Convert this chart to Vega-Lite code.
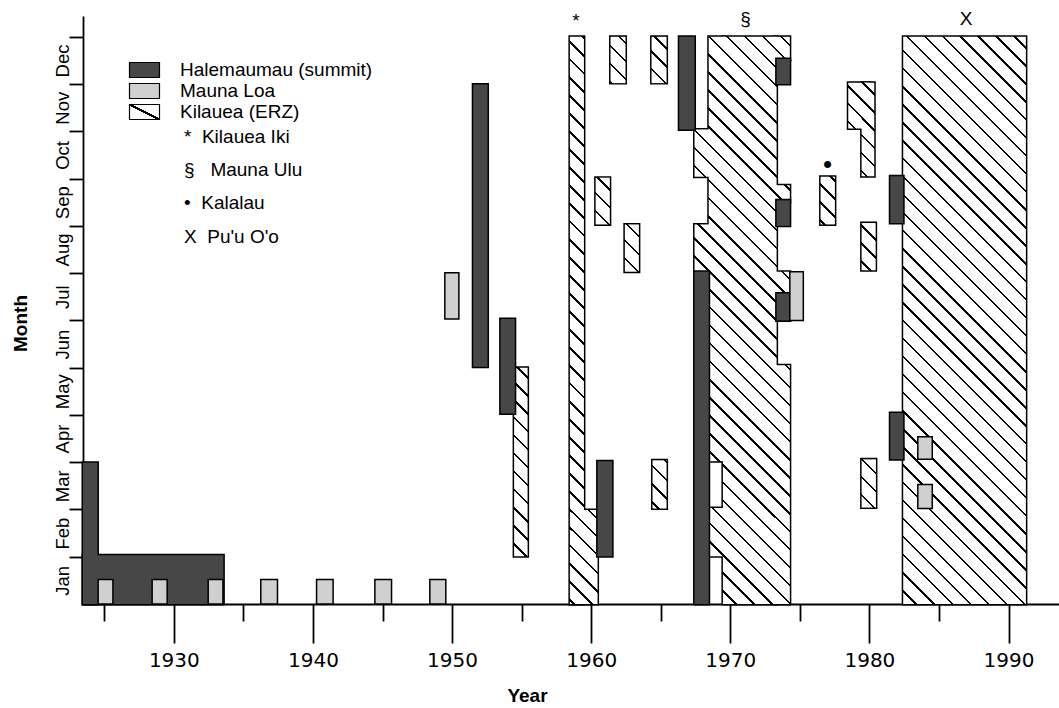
{
  "$schema": "https://vega.github.io/schema/vega-lite/v6.json",
  "width": 976,
  "height": 588,
  "autosize": "none",
  "padding": {"left": 83, "top": 16, "right": 0, "bottom": 104},
  "background": "white",
  "config": {
    "font": "Liberation Sans",
    "view": {"stroke": null},
    "axis": {"domainColor": "black", "domainWidth": 1.8, "tickColor": "black", "tickWidth": 1.8, "labelColor": "black", "titleColor": "black", "grid": false},
    "legend": {"labelColor": "black", "labelLimit": 400, "padding": 0}
  },
  "params": [
    {"name": "hatchStops", "value": [
      {"offset":0,"color":"#000"},{"offset":0.0018,"color":"#000"},{"offset":0.0018,"color":"#fff"},
      {"offset":0.0111,"color":"#fff"},{"offset":0.0111,"color":"#000"},{"offset":0.0129,"color":"#000"},{"offset":0.0129,"color":"#fff"},
      {"offset":0.0222,"color":"#fff"},{"offset":0.0222,"color":"#000"},{"offset":0.0240,"color":"#000"},{"offset":0.0240,"color":"#fff"},
      {"offset":0.0333,"color":"#fff"},{"offset":0.0333,"color":"#000"},{"offset":0.0351,"color":"#000"},{"offset":0.0351,"color":"#fff"},
      {"offset":0.0444,"color":"#fff"},{"offset":0.0444,"color":"#000"},{"offset":0.0462,"color":"#000"},{"offset":0.0462,"color":"#fff"},
      {"offset":0.0556,"color":"#fff"},{"offset":0.0556,"color":"#000"},{"offset":0.0574,"color":"#000"},{"offset":0.0574,"color":"#fff"},
      {"offset":0.0667,"color":"#fff"},{"offset":0.0667,"color":"#000"},{"offset":0.0685,"color":"#000"},{"offset":0.0685,"color":"#fff"},
      {"offset":0.0778,"color":"#fff"},{"offset":0.0778,"color":"#000"},{"offset":0.0796,"color":"#000"},{"offset":0.0796,"color":"#fff"},
      {"offset":0.0889,"color":"#fff"},{"offset":0.0889,"color":"#000"},{"offset":0.0907,"color":"#000"},{"offset":0.0907,"color":"#fff"},
      {"offset":0.1000,"color":"#fff"},{"offset":0.1000,"color":"#000"},{"offset":0.1018,"color":"#000"},{"offset":0.1018,"color":"#fff"},
      {"offset":0.1111,"color":"#fff"},{"offset":0.1111,"color":"#000"},{"offset":0.1129,"color":"#000"},{"offset":0.1129,"color":"#fff"},
      {"offset":0.1222,"color":"#fff"},{"offset":0.1222,"color":"#000"},{"offset":0.1240,"color":"#000"},{"offset":0.1240,"color":"#fff"},
      {"offset":0.1333,"color":"#fff"},{"offset":0.1333,"color":"#000"},{"offset":0.1351,"color":"#000"},{"offset":0.1351,"color":"#fff"},
      {"offset":0.1444,"color":"#fff"},{"offset":0.1444,"color":"#000"},{"offset":0.1462,"color":"#000"},{"offset":0.1462,"color":"#fff"},
      {"offset":0.1556,"color":"#fff"},{"offset":0.1556,"color":"#000"},{"offset":0.1574,"color":"#000"},{"offset":0.1574,"color":"#fff"},
      {"offset":0.1667,"color":"#fff"},{"offset":0.1667,"color":"#000"},{"offset":0.1685,"color":"#000"},{"offset":0.1685,"color":"#fff"},
      {"offset":0.1778,"color":"#fff"},{"offset":0.1778,"color":"#000"},{"offset":0.1796,"color":"#000"},{"offset":0.1796,"color":"#fff"},
      {"offset":0.1889,"color":"#fff"},{"offset":0.1889,"color":"#000"},{"offset":0.1907,"color":"#000"},{"offset":0.1907,"color":"#fff"},
      {"offset":0.2000,"color":"#fff"},{"offset":0.2000,"color":"#000"},{"offset":0.2018,"color":"#000"},{"offset":0.2018,"color":"#fff"},
      {"offset":0.2111,"color":"#fff"},{"offset":0.2111,"color":"#000"},{"offset":0.2129,"color":"#000"},{"offset":0.2129,"color":"#fff"},
      {"offset":0.2222,"color":"#fff"},{"offset":0.2222,"color":"#000"},{"offset":0.2240,"color":"#000"},{"offset":0.2240,"color":"#fff"},
      {"offset":0.2333,"color":"#fff"},{"offset":0.2333,"color":"#000"},{"offset":0.2351,"color":"#000"},{"offset":0.2351,"color":"#fff"},
      {"offset":0.2444,"color":"#fff"},{"offset":0.2444,"color":"#000"},{"offset":0.2462,"color":"#000"},{"offset":0.2462,"color":"#fff"},
      {"offset":0.2556,"color":"#fff"},{"offset":0.2556,"color":"#000"},{"offset":0.2574,"color":"#000"},{"offset":0.2574,"color":"#fff"},
      {"offset":0.2667,"color":"#fff"},{"offset":0.2667,"color":"#000"},{"offset":0.2685,"color":"#000"},{"offset":0.2685,"color":"#fff"},
      {"offset":0.2778,"color":"#fff"},{"offset":0.2778,"color":"#000"},{"offset":0.2796,"color":"#000"},{"offset":0.2796,"color":"#fff"},
      {"offset":0.2889,"color":"#fff"},{"offset":0.2889,"color":"#000"},{"offset":0.2907,"color":"#000"},{"offset":0.2907,"color":"#fff"},
      {"offset":0.3000,"color":"#fff"},{"offset":0.3000,"color":"#000"},{"offset":0.3018,"color":"#000"},{"offset":0.3018,"color":"#fff"},
      {"offset":0.3111,"color":"#fff"},{"offset":0.3111,"color":"#000"},{"offset":0.3129,"color":"#000"},{"offset":0.3129,"color":"#fff"},
      {"offset":0.3222,"color":"#fff"},{"offset":0.3222,"color":"#000"},{"offset":0.3240,"color":"#000"},{"offset":0.3240,"color":"#fff"},
      {"offset":0.3333,"color":"#fff"},{"offset":0.3333,"color":"#000"},{"offset":0.3351,"color":"#000"},{"offset":0.3351,"color":"#fff"},
      {"offset":0.3444,"color":"#fff"},{"offset":0.3444,"color":"#000"},{"offset":0.3462,"color":"#000"},{"offset":0.3462,"color":"#fff"},
      {"offset":0.3556,"color":"#fff"},{"offset":0.3556,"color":"#000"},{"offset":0.3574,"color":"#000"},{"offset":0.3574,"color":"#fff"},
      {"offset":0.3667,"color":"#fff"},{"offset":0.3667,"color":"#000"},{"offset":0.3685,"color":"#000"},{"offset":0.3685,"color":"#fff"},
      {"offset":0.3778,"color":"#fff"},{"offset":0.3778,"color":"#000"},{"offset":0.3796,"color":"#000"},{"offset":0.3796,"color":"#fff"},
      {"offset":0.3889,"color":"#fff"},{"offset":0.3889,"color":"#000"},{"offset":0.3907,"color":"#000"},{"offset":0.3907,"color":"#fff"},
      {"offset":0.4000,"color":"#fff"},{"offset":0.4000,"color":"#000"},{"offset":0.4018,"color":"#000"},{"offset":0.4018,"color":"#fff"},
      {"offset":0.4111,"color":"#fff"},{"offset":0.4111,"color":"#000"},{"offset":0.4129,"color":"#000"},{"offset":0.4129,"color":"#fff"},
      {"offset":0.4222,"color":"#fff"},{"offset":0.4222,"color":"#000"},{"offset":0.4240,"color":"#000"},{"offset":0.4240,"color":"#fff"},
      {"offset":0.4333,"color":"#fff"},{"offset":0.4333,"color":"#000"},{"offset":0.4351,"color":"#000"},{"offset":0.4351,"color":"#fff"},
      {"offset":0.4444,"color":"#fff"},{"offset":0.4444,"color":"#000"},{"offset":0.4462,"color":"#000"},{"offset":0.4462,"color":"#fff"},
      {"offset":0.4556,"color":"#fff"},{"offset":0.4556,"color":"#000"},{"offset":0.4574,"color":"#000"},{"offset":0.4574,"color":"#fff"},
      {"offset":0.4667,"color":"#fff"},{"offset":0.4667,"color":"#000"},{"offset":0.4685,"color":"#000"},{"offset":0.4685,"color":"#fff"},
      {"offset":0.4778,"color":"#fff"},{"offset":0.4778,"color":"#000"},{"offset":0.4796,"color":"#000"},{"offset":0.4796,"color":"#fff"},
      {"offset":0.4889,"color":"#fff"},{"offset":0.4889,"color":"#000"},{"offset":0.4907,"color":"#000"},{"offset":0.4907,"color":"#fff"},
      {"offset":0.5000,"color":"#fff"},{"offset":0.5000,"color":"#000"},{"offset":0.5018,"color":"#000"},{"offset":0.5018,"color":"#fff"},
      {"offset":0.5111,"color":"#fff"},{"offset":0.5111,"color":"#000"},{"offset":0.5129,"color":"#000"},{"offset":0.5129,"color":"#fff"},
      {"offset":0.5222,"color":"#fff"},{"offset":0.5222,"color":"#000"},{"offset":0.5240,"color":"#000"},{"offset":0.5240,"color":"#fff"},
      {"offset":0.5333,"color":"#fff"},{"offset":0.5333,"color":"#000"},{"offset":0.5351,"color":"#000"},{"offset":0.5351,"color":"#fff"},
      {"offset":0.5444,"color":"#fff"},{"offset":0.5444,"color":"#000"},{"offset":0.5462,"color":"#000"},{"offset":0.5462,"color":"#fff"},
      {"offset":0.5556,"color":"#fff"},{"offset":0.5556,"color":"#000"},{"offset":0.5574,"color":"#000"},{"offset":0.5574,"color":"#fff"},
      {"offset":0.5667,"color":"#fff"},{"offset":0.5667,"color":"#000"},{"offset":0.5685,"color":"#000"},{"offset":0.5685,"color":"#fff"},
      {"offset":0.5778,"color":"#fff"},{"offset":0.5778,"color":"#000"},{"offset":0.5796,"color":"#000"},{"offset":0.5796,"color":"#fff"},
      {"offset":0.5889,"color":"#fff"},{"offset":0.5889,"color":"#000"},{"offset":0.5907,"color":"#000"},{"offset":0.5907,"color":"#fff"},
      {"offset":0.6000,"color":"#fff"},{"offset":0.6000,"color":"#000"},{"offset":0.6018,"color":"#000"},{"offset":0.6018,"color":"#fff"},
      {"offset":0.6111,"color":"#fff"},{"offset":0.6111,"color":"#000"},{"offset":0.6129,"color":"#000"},{"offset":0.6129,"color":"#fff"},
      {"offset":0.6222,"color":"#fff"},{"offset":0.6222,"color":"#000"},{"offset":0.6240,"color":"#000"},{"offset":0.6240,"color":"#fff"},
      {"offset":0.6333,"color":"#fff"},{"offset":0.6333,"color":"#000"},{"offset":0.6351,"color":"#000"},{"offset":0.6351,"color":"#fff"},
      {"offset":0.6444,"color":"#fff"},{"offset":0.6444,"color":"#000"},{"offset":0.6462,"color":"#000"},{"offset":0.6462,"color":"#fff"},
      {"offset":0.6556,"color":"#fff"},{"offset":0.6556,"color":"#000"},{"offset":0.6574,"color":"#000"},{"offset":0.6574,"color":"#fff"},
      {"offset":0.6667,"color":"#fff"},{"offset":0.6667,"color":"#000"},{"offset":0.6685,"color":"#000"},{"offset":0.6685,"color":"#fff"},
      {"offset":0.6778,"color":"#fff"},{"offset":0.6778,"color":"#000"},{"offset":0.6796,"color":"#000"},{"offset":0.6796,"color":"#fff"},
      {"offset":0.6889,"color":"#fff"},{"offset":0.6889,"color":"#000"},{"offset":0.6907,"color":"#000"},{"offset":0.6907,"color":"#fff"},
      {"offset":0.7000,"color":"#fff"},{"offset":0.7000,"color":"#000"},{"offset":0.7018,"color":"#000"},{"offset":0.7018,"color":"#fff"},
      {"offset":0.7111,"color":"#fff"},{"offset":0.7111,"color":"#000"},{"offset":0.7129,"color":"#000"},{"offset":0.7129,"color":"#fff"},
      {"offset":0.7222,"color":"#fff"},{"offset":0.7222,"color":"#000"},{"offset":0.7240,"color":"#000"},{"offset":0.7240,"color":"#fff"},
      {"offset":0.7333,"color":"#fff"},{"offset":0.7333,"color":"#000"},{"offset":0.7351,"color":"#000"},{"offset":0.7351,"color":"#fff"},
      {"offset":0.7444,"color":"#fff"},{"offset":0.7444,"color":"#000"},{"offset":0.7462,"color":"#000"},{"offset":0.7462,"color":"#fff"},
      {"offset":0.7556,"color":"#fff"},{"offset":0.7556,"color":"#000"},{"offset":0.7574,"color":"#000"},{"offset":0.7574,"color":"#fff"},
      {"offset":0.7667,"color":"#fff"},{"offset":0.7667,"color":"#000"},{"offset":0.7685,"color":"#000"},{"offset":0.7685,"color":"#fff"},
      {"offset":0.7778,"color":"#fff"},{"offset":0.7778,"color":"#000"},{"offset":0.7796,"color":"#000"},{"offset":0.7796,"color":"#fff"},
      {"offset":0.7889,"color":"#fff"},{"offset":0.7889,"color":"#000"},{"offset":0.7907,"color":"#000"},{"offset":0.7907,"color":"#fff"},
      {"offset":0.8000,"color":"#fff"},{"offset":0.8000,"color":"#000"},{"offset":0.8018,"color":"#000"},{"offset":0.8018,"color":"#fff"},
      {"offset":0.8111,"color":"#fff"},{"offset":0.8111,"color":"#000"},{"offset":0.8129,"color":"#000"},{"offset":0.8129,"color":"#fff"},
      {"offset":0.8222,"color":"#fff"},{"offset":0.8222,"color":"#000"},{"offset":0.8240,"color":"#000"},{"offset":0.8240,"color":"#fff"},
      {"offset":0.8333,"color":"#fff"},{"offset":0.8333,"color":"#000"},{"offset":0.8351,"color":"#000"},{"offset":0.8351,"color":"#fff"},
      {"offset":0.8444,"color":"#fff"},{"offset":0.8444,"color":"#000"},{"offset":0.8462,"color":"#000"},{"offset":0.8462,"color":"#fff"},
      {"offset":0.8556,"color":"#fff"},{"offset":0.8556,"color":"#000"},{"offset":0.8574,"color":"#000"},{"offset":0.8574,"color":"#fff"},
      {"offset":0.8667,"color":"#fff"},{"offset":0.8667,"color":"#000"},{"offset":0.8685,"color":"#000"},{"offset":0.8685,"color":"#fff"},
      {"offset":0.8778,"color":"#fff"},{"offset":0.8778,"color":"#000"},{"offset":0.8796,"color":"#000"},{"offset":0.8796,"color":"#fff"},
      {"offset":0.8889,"color":"#fff"},{"offset":0.8889,"color":"#000"},{"offset":0.8907,"color":"#000"},{"offset":0.8907,"color":"#fff"},
      {"offset":0.9000,"color":"#fff"},{"offset":0.9000,"color":"#000"},{"offset":0.9018,"color":"#000"},{"offset":0.9018,"color":"#fff"},
      {"offset":0.9111,"color":"#fff"},{"offset":0.9111,"color":"#000"},{"offset":0.9129,"color":"#000"},{"offset":0.9129,"color":"#fff"},
      {"offset":0.9222,"color":"#fff"},{"offset":0.9222,"color":"#000"},{"offset":0.9240,"color":"#000"},{"offset":0.9240,"color":"#fff"},
      {"offset":0.9333,"color":"#fff"},{"offset":0.9333,"color":"#000"},{"offset":0.9351,"color":"#000"},{"offset":0.9351,"color":"#fff"},
      {"offset":0.9444,"color":"#fff"},{"offset":0.9444,"color":"#000"},{"offset":0.9462,"color":"#000"},{"offset":0.9462,"color":"#fff"},
      {"offset":0.9556,"color":"#fff"},{"offset":0.9556,"color":"#000"},{"offset":0.9574,"color":"#000"},{"offset":0.9574,"color":"#fff"},
      {"offset":0.9667,"color":"#fff"},{"offset":0.9667,"color":"#000"},{"offset":0.9685,"color":"#000"},{"offset":0.9685,"color":"#fff"},
      {"offset":0.9778,"color":"#fff"},{"offset":0.9778,"color":"#000"},{"offset":0.9796,"color":"#000"},{"offset":0.9796,"color":"#fff"},
      {"offset":0.9889,"color":"#fff"},{"offset":0.9889,"color":"#000"},{"offset":0.9907,"color":"#000"},{"offset":0.9907,"color":"#fff"}
    ]}
  ],
  "datasets": {
    "eruptions": [
      {"kind": "Kilauea (ERZ)", "x0": 1954.46, "x1": 1955.43, "m0": 1.01, "m1": 5.0},
      {"kind": "Kilauea (ERZ)", "x0": 1958.47, "x1": 1959.48, "m0": 0, "m1": 12},
      {"kind": "Kilauea (ERZ)", "x0": 1958.6, "x1": 1960.46, "m0": 0, "m1": 1.99},
      {"kind": "Kilauea (ERZ)", "x0": 1960.32, "x1": 1961.34, "m0": 8.03, "m1": 9.02},
      {"kind": "Kilauea (ERZ)", "x0": 1961.39, "x1": 1962.47, "m0": 11.02, "m1": 12},
      {"kind": "Kilauea (ERZ)", "x0": 1962.42, "x1": 1963.43, "m0": 7.03, "m1": 8.03},
      {"kind": "Kilauea (ERZ)", "x0": 1964.34, "x1": 1965.42, "m0": 11.02, "m1": 12},
      {"kind": "Kilauea (ERZ)", "x0": 1964.41, "x1": 1965.42, "m0": 2.02, "m1": 3.04},
      {"kind": "Kilauea (ERZ)", "x0": 1967.43, "x1": 1968.55, "m0": 9.04, "m1": 10.04},
      {"kind": "Kilauea (ERZ)", "x0": 1967.43, "x1": 1968.55, "m0": 7.03, "m1": 8.03},
      {"kind": "Kilauea (ERZ)", "x0": 1968.45, "x1": 1969.6, "m0": 3.02, "m1": 12},
      {"kind": "Kilauea (ERZ)", "x0": 1968.45, "x1": 1969.6, "m0": 1.01, "m1": 2.03},
      {"kind": "Kilauea (ERZ)", "x0": 1969.47, "x1": 1973.33, "m0": 0, "m1": 12},
      {"kind": "Kilauea (ERZ)", "x0": 1973.2, "x1": 1974.28, "m0": 0, "m1": 5.05},
      {"kind": "Kilauea (ERZ)", "x0": 1973.2, "x1": 1974.28, "m0": 6.5, "m1": 7.03},
      {"kind": "Kilauea (ERZ)", "x0": 1973.2, "x1": 1974.28, "m0": 8.5, "m1": 8.86},
      {"kind": "Kilauea (ERZ)", "x0": 1973.2, "x1": 1974.28, "m0": 11.5, "m1": 12},
      {"kind": "Kilauea (ERZ)", "x0": 1976.49, "x1": 1977.52, "m0": 8.03, "m1": 9.04},
      {"kind": "Kilauea (ERZ)", "x0": 1978.48, "x1": 1980.0, "m0": 10.06, "m1": 11.03},
      {"kind": "Kilauea (ERZ)", "x0": 1979.44, "x1": 1980.35, "m0": 9.05, "m1": 11.03},
      {"kind": "Kilauea (ERZ)", "x0": 1979.44, "x1": 1980.45, "m0": 7.06, "m1": 8.06},
      {"kind": "Kilauea (ERZ)", "x0": 1979.44, "x1": 1980.47, "m0": 2.04, "m1": 3.06},
      {"kind": "Kilauea (ERZ)", "x0": 1982.43, "x1": 1991.25, "m0": 0, "m1": 12},
      {"kind": "Halemaumau (summit)", "x0": 1923.47, "x1": 1924.51, "m0": 0, "m1": 2.99},
      {"kind": "Halemaumau (summit)", "x0": 1923.47, "x1": 1933.56, "m0": 0, "m1": 1.03},
      {"kind": "Halemaumau (summit)", "x0": 1951.52, "x1": 1952.55, "m0": 5.02, "m1": 10.99},
      {"kind": "Halemaumau (summit)", "x0": 1953.49, "x1": 1954.51, "m0": 4.03, "m1": 6.03},
      {"kind": "Halemaumau (summit)", "x0": 1960.46, "x1": 1961.51, "m0": 1.01, "m1": 3.02},
      {"kind": "Halemaumau (summit)", "x0": 1966.33, "x1": 1967.43, "m0": 10.04, "m1": 12},
      {"kind": "Halemaumau (summit)", "x0": 1967.43, "x1": 1968.45, "m0": 0, "m1": 7.03},
      {"kind": "Halemaumau (summit)", "x0": 1973.33, "x1": 1974.28, "m0": 11.0, "m1": 11.53},
      {"kind": "Halemaumau (summit)", "x0": 1973.33, "x1": 1974.28, "m0": 8.0, "m1": 8.54},
      {"kind": "Halemaumau (summit)", "x0": 1973.33, "x1": 1974.28, "m0": 6.0, "m1": 6.57},
      {"kind": "Halemaumau (summit)", "x0": 1981.5, "x1": 1982.43, "m0": 8.06, "m1": 9.05},
      {"kind": "Halemaumau (summit)", "x0": 1981.5, "x1": 1982.43, "m0": 3.06, "m1": 4.04},
      {"kind": "Mauna Loa", "x0": 1924.56, "x1": 1925.62, "m0": 0, "m1": 0.52},
      {"kind": "Mauna Loa", "x0": 1928.44, "x1": 1929.52, "m0": 0, "m1": 0.52},
      {"kind": "Mauna Loa", "x0": 1932.47, "x1": 1933.53, "m0": 0, "m1": 0.52},
      {"kind": "Mauna Loa", "x0": 1936.25, "x1": 1937.45, "m0": 0, "m1": 0.52},
      {"kind": "Mauna Loa", "x0": 1940.26, "x1": 1941.45, "m0": 0, "m1": 0.52},
      {"kind": "Mauna Loa", "x0": 1944.45, "x1": 1945.65, "m0": 0, "m1": 0.52},
      {"kind": "Mauna Loa", "x0": 1948.4, "x1": 1949.55, "m0": 0, "m1": 0.52},
      {"kind": "Mauna Loa", "x0": 1949.48, "x1": 1950.49, "m0": 6.03, "m1": 7.01},
      {"kind": "Mauna Loa", "x0": 1974.28, "x1": 1975.25, "m0": 6.0, "m1": 7.03},
      {"kind": "Mauna Loa", "x0": 1983.48, "x1": 1984.52, "m0": 3.06, "m1": 3.54},
      {"kind": "Mauna Loa", "x0": 1983.48, "x1": 1984.52, "m0": 2.02, "m1": 2.53}
    ],
    "vents": [
      {"glyph": "*", "entry": "*\u00a0\u00a0Kilauea Iki", "year": 1958.9, "month": 12.2},
      {"glyph": "§", "entry": "§\u00a0\u00a0\u00a0Mauna Ulu", "year": 1971.1, "month": 12.25},
      {"glyph": "•", "entry": "•\u00a0\u00a0Kalalau", "year": 1977.0, "month": 9.12},
      {"glyph": "X", "entry": "X\u00a0\u00a0Pu'u O'o", "year": 1986.95, "month": 12.25}
    ]
  },
  "resolve": {"axis": {"x": "independent", "y": "independent"}},
  "layer": [
    {
      "data": {"name": "eruptions"},
      "transform": [{"filter": "datum.kind === 'Kilauea (ERZ)'"}],
      "mark": {
        "type": "rect",
        "stroke": "black",
        "strokeWidth": 3,
        "fill": {"expr": "{gradient: 'linear', x1: (-620 - scale('x', datum.x0) + scale('y', datum.m1)) / (scale('x', datum.x1) - scale('x', datum.x0)), y1: 0, x2: (-620 - scale('x', datum.x0) + scale('y', datum.m1)) / (scale('x', datum.x1) - scale('x', datum.x0)) + 1620 * (scale('x', datum.x1) - scale('x', datum.x0)) / (pow(scale('x', datum.x1) - scale('x', datum.x0), 2) + pow(scale('y', datum.m0) - scale('y', datum.m1), 2)), y2: -1620 * (scale('y', datum.m0) - scale('y', datum.m1)) / (pow(scale('x', datum.x1) - scale('x', datum.x0), 2) + pow(scale('y', datum.m0) - scale('y', datum.m1), 2)), stops: hatchStops}"}
      },
      "encoding": {
        "x": {
          "field": "x0", "type": "quantitative",
          "scale": {"domain": [1923.47, 1993.63], "nice": false, "zero": false},
          "axis": {
            "orient": "bottom", "values": [1930, 1940, 1950, 1960, 1970, 1980, 1990], "format": "d",
            "tickSize": 39, "labelPadding": 7.5, "labelFontSize": 20, "labelFont": "DejaVu Sans",
            "labelFlush": false, "labelOverlap": false,
            "title": "Year", "titleFontSize": 19, "titleFontWeight": "bold",
            "titleX": 444, "titleY": 97, "titleAlign": "center", "titleBaseline": "alphabetic", "titleAngle": 0
          }
        },
        "x2": {"field": "x1"},
        "y": {
          "field": "m0", "type": "quantitative",
          "scale": {"domain": [0, 12.44], "nice": false, "zero": false},
          "axis": {
            "orient": "left", "values": [1, 2, 3, 4, 5, 6, 7, 8, 9, 10, 11, 12],
            "tickSize": 14, "labels": false,
            "title": "Month", "titleFontSize": 19, "titleFontWeight": "bold",
            "titleX": -62.5, "titleY": 307, "titleAngle": -90, "titleAlign": "center", "titleBaseline": "middle"
          }
        },
        "y2": {"field": "m1"}
      }
    },
    {
      "data": {"name": "eruptions"},
      "transform": [{"filter": "datum.kind === 'Kilauea (ERZ)'"}],
      "mark": {
        "type": "rect",
        "fill": {"expr": "{gradient: 'linear', x1: (-620 - scale('x', datum.x0) + scale('y', datum.m1)) / (scale('x', datum.x1) - scale('x', datum.x0)), y1: 0, x2: (-620 - scale('x', datum.x0) + scale('y', datum.m1)) / (scale('x', datum.x1) - scale('x', datum.x0)) + 1620 * (scale('x', datum.x1) - scale('x', datum.x0)) / (pow(scale('x', datum.x1) - scale('x', datum.x0), 2) + pow(scale('y', datum.m0) - scale('y', datum.m1), 2)), y2: -1620 * (scale('y', datum.m0) - scale('y', datum.m1)) / (pow(scale('x', datum.x1) - scale('x', datum.x0), 2) + pow(scale('y', datum.m0) - scale('y', datum.m1), 2)), stops: hatchStops}"}
      },
      "encoding": {
        "x": {
          "field": "x0", "type": "quantitative",
          "scale": {"domain": [1923.47, 1993.63], "nice": false, "zero": false},
          "axis": {"orient": "bottom", "values": [1925, 1935, 1945, 1955, 1965, 1975, 1985], "tickSize": 17, "labels": false, "domain": false, "title": null}
        },
        "x2": {"field": "x1"},
        "y": {
          "field": "m0", "type": "quantitative",
          "scale": {"domain": [0, 12.44], "nice": false, "zero": false},
          "axis": {
            "orient": "left", "values": [0.5, 1.5, 2.5, 3.5, 4.5, 5.5, 6.5, 7.5, 8.5, 9.5, 10.5, 11.5],
            "ticks": false, "tickSize": 0, "domain": false, "labelPadding": 11,
            "labelAngle": -90, "labelAlign": "center", "labelBaseline": "bottom", "labelFontSize": 18.5,
            "labelOverlap": false,
            "labelExpr": "['Jan','Feb','Mar','Apr','May','Jun','Jul','Aug','Sep','Oct','Nov','Dec'][floor(datum.value)]",
            "title": null
          }
        },
        "y2": {"field": "m1"}
      }
    },
    {
      "data": {"name": "eruptions"},
      "transform": [{"filter": "datum.kind === 'Halemaumau (summit)'"}],
      "mark": {"type": "rect", "stroke": "black", "strokeWidth": 3},
      "encoding": {
        "x": {"field": "x0", "type": "quantitative", "scale": {"domain": [1923.47, 1993.63], "nice": false, "zero": false}, "axis": null},
        "x2": {"field": "x1"},
        "y": {"field": "m0", "type": "quantitative", "scale": {"domain": [0, 12.44], "nice": false, "zero": false}, "axis": null},
        "y2": {"field": "m1"},
        "fill": {
          "field": "kind", "type": "nominal",
          "scale": {"domain": ["Halemaumau (summit)", "Mauna Loa", "Kilauea (ERZ)"], "range": ["#474747", "#d0d0d0", {"expr": "{gradient: 'linear', x1: 0, y1: 1, x2: 1, y2: 0, stops: [{offset: 0.46, color: '#fff'}, {offset: 0.46, color: '#000'}, {offset: 0.54, color: '#000'}, {offset: 0.54, color: '#fff'}]}"}]},
          "legend": {
            "title": null, "orient": "none", "legendX": 52, "legendY": 44.5,
            "symbolType": "M-2,-1H2V1H-2Z", "symbolSize": 225,
            "symbolStrokeColor": "black", "symbolStrokeWidth": 1.2, "symbolOpacity": 1,
            "labelFontSize": 19, "labelOffset": 26, "rowPadding": 0, "padding": 0,
            "encode": {
              "symbols": {
                "update": {
                  "stroke": {"value": "black"},
                  "strokeWidth": {"value": 1.2}
                }
              }
            }
          }
        }
      }
    },
    {
      "data": {"name": "eruptions"},
      "transform": [{"filter": "datum.kind === 'Halemaumau (summit)'"}],
      "mark": {"type": "rect"},
      "encoding": {
        "x": {"field": "x0", "type": "quantitative", "scale": {"domain": [1923.47, 1993.63], "nice": false, "zero": false}, "axis": null},
        "x2": {"field": "x1"},
        "y": {"field": "m0", "type": "quantitative", "scale": {"domain": [0, 12.44], "nice": false, "zero": false}, "axis": null},
        "y2": {"field": "m1"},
        "fill": {
          "field": "kind", "type": "nominal",
          "scale": {"domain": ["Halemaumau (summit)", "Mauna Loa", "Kilauea (ERZ)"], "range": ["#474747", "#d0d0d0", {"expr": "{gradient: 'linear', x1: 0, y1: 1, x2: 1, y2: 0, stops: [{offset: 0.46, color: '#fff'}, {offset: 0.46, color: '#000'}, {offset: 0.54, color: '#000'}, {offset: 0.54, color: '#fff'}]}"}]},
          "legend": null
        }
      }
    },
    {
      "data": {"name": "eruptions"},
      "transform": [{"filter": "datum.kind === 'Mauna Loa'"}],
      "mark": {"type": "rect", "stroke": "black", "strokeWidth": 1.5},
      "encoding": {
        "x": {"field": "x0", "type": "quantitative", "scale": {"domain": [1923.47, 1993.63], "nice": false, "zero": false}, "axis": null},
        "x2": {"field": "x1"},
        "y": {"field": "m0", "type": "quantitative", "scale": {"domain": [0, 12.44], "nice": false, "zero": false}, "axis": null},
        "y2": {"field": "m1"},
        "fill": {
          "field": "kind", "type": "nominal",
          "scale": {"domain": ["Halemaumau (summit)", "Mauna Loa", "Kilauea (ERZ)"], "range": ["#474747", "#d0d0d0", {"expr": "{gradient: 'linear', x1: 0, y1: 1, x2: 1, y2: 0, stops: [{offset: 0.46, color: '#fff'}, {offset: 0.46, color: '#000'}, {offset: 0.54, color: '#000'}, {offset: 0.54, color: '#fff'}]}"}]},
          "legend": null
        }
      }
    },
    {
      "data": {"name": "vents"},
      "transform": [{"filter": "datum.glyph !== '•'"}],
      "mark": {"type": "text", "fontSize": 19, "baseline": "alphabetic", "align": "center"},
      "encoding": {
        "x": {"field": "year", "type": "quantitative", "scale": {"domain": [1923.47, 1993.63], "nice": false, "zero": false}, "axis": null},
        "y": {"field": "month", "type": "quantitative", "scale": {"domain": [0, 12.44], "nice": false, "zero": false}, "axis": null},
        "text": {"field": "glyph"},
        "color": {
          "field": "entry", "type": "nominal",
          "scale": {"domain": ["*\u00a0\u00a0Kilauea Iki", "§\u00a0\u00a0\u00a0Mauna Ulu", "•\u00a0\u00a0Kalalau", "X\u00a0\u00a0Pu'u O'o"], "range": ["black", "black", "black", "black"]},
          "legend": {
            "title": null, "orient": "none", "legendX": 82, "legendY": 111,
            "symbolSize": 0, "symbolOpacity": 0, "symbolStrokeWidth": 0,
            "labelOffset": 0, "rowPadding": 13.4, "labelFontSize": 19, "padding": 0
          }
        }
      }
    },
    {
      "data": {"name": "vents"},
      "transform": [{"filter": "datum.glyph === '•'"}],
      "mark": {"type": "text", "fontSize": 26, "baseline": "alphabetic", "align": "center"},
      "encoding": {
        "x": {"field": "year", "type": "quantitative", "scale": {"domain": [1923.47, 1993.63], "nice": false, "zero": false}, "axis": null},
        "y": {"field": "month", "type": "quantitative", "scale": {"domain": [0, 12.44], "nice": false, "zero": false}, "axis": null},
        "text": {"field": "glyph"},
        "color": {
          "field": "entry", "type": "nominal",
          "scale": {"domain": ["*\u00a0\u00a0Kilauea Iki", "§\u00a0\u00a0\u00a0Mauna Ulu", "•\u00a0\u00a0Kalalau", "X\u00a0\u00a0Pu'u O'o"], "range": ["black", "black", "black", "black"]},
          "legend": null
        }
      }
    }
  ]
}
